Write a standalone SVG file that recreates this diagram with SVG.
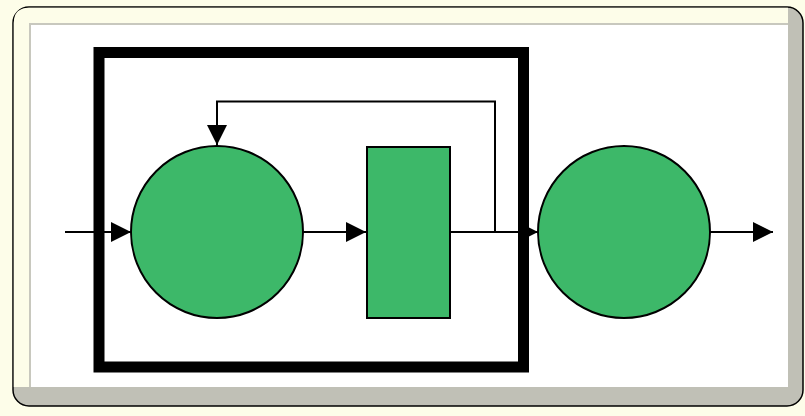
<svg xmlns="http://www.w3.org/2000/svg" width="805" height="416" viewBox="0 0 805 416">
<defs>
<style>
.node{fill:#3db869;stroke:#000;stroke-width:2}
.wire{fill:none;stroke:#000;stroke-width:2}
</style>
<marker id="arr" viewBox="0 0 20 20" refX="20" refY="10" markerWidth="20" markerHeight="20" markerUnits="userSpaceOnUse" orient="auto">
<path d="M0,0 L20,10 L0,20 Z" fill="#000"/>
</marker>
</defs>
<rect x="0" y="0" width="805" height="416" fill="#fdfde9"/>
<g id="frame">
<rect x="13" y="7" width="790" height="399" rx="16" fill="#c0c0b6" stroke="#000" stroke-width="1.5"/>
<path d="M13.8,387 L13.8,23 Q13.8,7.8 29,7.8 L788,7.8 L788,24 L30,24 L30,387 Z" fill="#fdfde9"/>
<rect x="30" y="24" width="758" height="363" fill="#fff"/>
<path d="M30,387 L30,24 L788,24" fill="none" stroke="#c8c8be" stroke-width="2"/>
</g>
<g id="box">
<rect x="99" y="52.5" width="424.5" height="314.5" fill="none" stroke="#000" stroke-width="11"/>
</g>
<g id="connectors">
<line class="wire" x1="65" y1="232" x2="131" y2="232" marker-end="url(#arr)"/>
<line class="wire" x1="303" y1="232" x2="366" y2="232" marker-end="url(#arr)"/>
<line class="wire" x1="451" y1="232" x2="538" y2="232" marker-end="url(#arr)"/>
<polyline class="wire" points="495,232 495,101.5 217,101.5 217,145" marker-end="url(#arr)"/>
<line class="wire" x1="710" y1="232" x2="773" y2="232" marker-end="url(#arr)"/>
</g>
<g id="circle1"><circle class="node" cx="217" cy="232" r="86"/></g>
<g id="block"><rect class="node" x="367" y="147" width="83" height="171"/></g>
<g id="circle2"><circle class="node" cx="624" cy="232" r="86"/></g>
</svg>
